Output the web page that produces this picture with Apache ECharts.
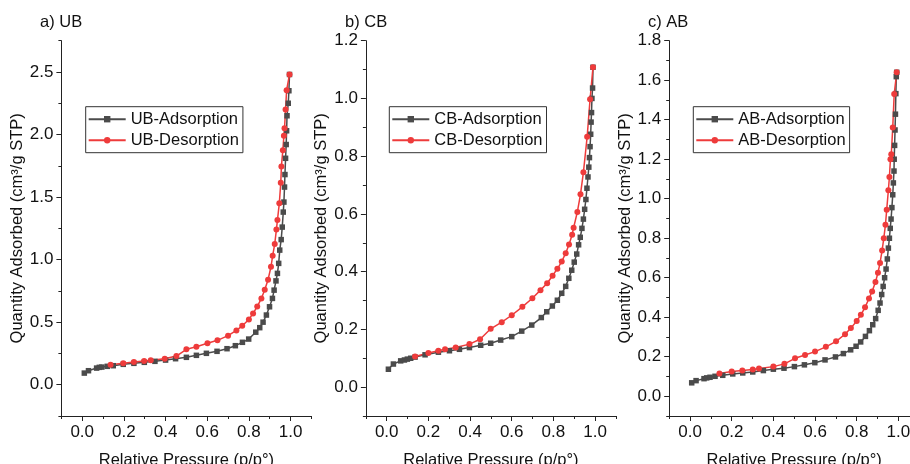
<!DOCTYPE html>
<html>
<head>
<meta charset="utf-8">
<script src="https://cdn.jsdelivr.net/npm/echarts@6/dist/echarts.min.js"></script>
<style>
  html, body { margin: 0; padding: 0; background: #fff; }
  #chart { width: 910px; height: 464px; }
</style>
</head>
<body>
<div id="chart"></div>
<script>
// N2 isotherms for three samples: [relative pressure p/p°, quantity adsorbed]
const panelTitles = ['a) UB', 'b) CB', 'c) AB'];
const sampleNames = ['UB', 'CB', 'AB'];

const ubAdsorption = [
  [0.010,0.093],[0.030,0.112],[0.069,0.133],[0.082,0.139],[0.094,0.141],[0.120,0.147],
  [0.149,0.152],[0.197,0.163],[0.248,0.171],[0.298,0.179],[0.349,0.187],[0.400,0.197],
  [0.448,0.208],[0.500,0.219],[0.548,0.235],[0.596,0.251],[0.647,0.267],[0.695,0.288],
  [0.735,0.312],[0.769,0.339],[0.799,0.365],[0.833,0.420],[0.852,0.456],[0.868,0.500],
  [0.884,0.557],[0.899,0.623],[0.913,0.690],[0.921,0.756],[0.930,0.830],[0.937,0.890],
  [0.943,0.970],[0.948,1.076],[0.955,1.160],[0.960,1.260],[0.965,1.380],[0.968,1.460],
  [0.971,1.580],[0.973,1.680],[0.976,1.810],[0.979,1.920],[0.981,2.030],[0.983,2.150],
  [0.989,2.250],[0.992,2.350],[0.995,2.480]
];
const ubDesorption = [
  [0.995,2.480],[0.981,2.354],[0.976,2.200],[0.971,2.050],[0.968,1.990],[0.963,1.875],
  [0.956,1.745],[0.953,1.615],[0.946,1.450],[0.937,1.316],[0.932,1.240],[0.924,1.125],
  [0.914,1.030],[0.906,0.943],[0.892,0.840],[0.876,0.760],[0.860,0.690],[0.840,0.625],
  [0.820,0.570],[0.800,0.522],[0.768,0.471],[0.740,0.434],[0.700,0.392],[0.649,0.355],
  [0.601,0.331],[0.548,0.304],[0.500,0.283],[0.452,0.229],[0.396,0.208],[0.329,0.195],
  [0.297,0.189],[0.248,0.181],[0.197,0.171],[0.136,0.160]
];

const cbAdsorption = [
  [0.008,0.062],[0.032,0.080],[0.067,0.091],[0.085,0.094],[0.099,0.097],[0.115,0.100],
  [0.136,0.104],[0.184,0.112],[0.248,0.121],[0.301,0.126],[0.349,0.131],[0.397,0.137],
  [0.451,0.145],[0.499,0.152],[0.547,0.163],[0.600,0.175],[0.648,0.194],[0.696,0.215],
  [0.742,0.241],[0.768,0.261],[0.795,0.281],[0.819,0.301],[0.840,0.325],[0.859,0.349],
  [0.874,0.377],[0.888,0.405],[0.900,0.433],[0.912,0.461],[0.921,0.493],[0.929,0.519],
  [0.937,0.550],[0.944,0.582],[0.950,0.616],[0.956,0.650],[0.961,0.689],[0.966,0.728],
  [0.970,0.762],[0.973,0.795],[0.976,0.833],[0.979,0.876],[0.981,0.918],[0.983,0.951],
  [0.985,1.000],[0.988,1.036],[0.990,1.108]
];
const cbDesorption = [
  [0.990,1.108],[0.976,0.997],[0.962,0.867],[0.944,0.744],[0.930,0.668],[0.915,0.607],
  [0.897,0.552],[0.890,0.528],[0.875,0.494],[0.859,0.464],[0.840,0.435],[0.819,0.410],
  [0.796,0.386],[0.770,0.360],[0.738,0.336],[0.699,0.308],[0.651,0.278],[0.600,0.249],
  [0.552,0.225],[0.499,0.202],[0.448,0.166],[0.397,0.149],[0.331,0.137],[0.280,0.131],
  [0.248,0.126],[0.200,0.118],[0.136,0.106]
];

const abAdsorption = [
  [0.008,0.068],[0.029,0.079],[0.067,0.089],[0.080,0.093],[0.096,0.096],[0.120,0.101],
  [0.157,0.106],[0.205,0.113],[0.253,0.118],[0.301,0.123],[0.352,0.130],[0.400,0.137],
  [0.451,0.142],[0.501,0.150],[0.549,0.159],[0.599,0.170],[0.648,0.184],[0.698,0.199],
  [0.736,0.216],[0.771,0.235],[0.797,0.253],[0.819,0.275],[0.842,0.303],[0.861,0.332],
  [0.877,0.362],[0.891,0.393],[0.903,0.435],[0.912,0.472],[0.920,0.515],[0.927,0.556],
  [0.934,0.600],[0.941,0.644],[0.947,0.695],[0.952,0.750],[0.957,0.800],[0.961,0.850],
  [0.965,0.897],[0.969,0.955],[0.973,1.020],[0.976,1.080],[0.979,1.140],[0.980,1.200],
  [0.982,1.270],[0.984,1.348],[0.986,1.428],[0.988,1.532],[0.990,1.618],[0.992,1.640]
];
const abDesorption = [
  [0.992,1.640],[0.980,1.530],[0.973,1.360],[0.966,1.225],[0.962,1.200],[0.957,1.110],
  [0.952,1.043],[0.944,0.944],[0.938,0.868],[0.930,0.800],[0.922,0.738],[0.912,0.675],
  [0.902,0.625],[0.890,0.578],[0.874,0.530],[0.859,0.495],[0.840,0.450],[0.820,0.412],
  [0.800,0.381],[0.772,0.345],[0.744,0.314],[0.701,0.278],[0.652,0.250],[0.600,0.226],
  [0.552,0.209],[0.504,0.192],[0.453,0.164],[0.400,0.150],[0.331,0.140],[0.301,0.135],
  [0.251,0.130],[0.200,0.125],[0.141,0.115]
];

// axis ranges and tick positions
const xRange = [-0.1, 1.1];
const xMajorTicks = [0, 0.2, 0.4, 0.6, 0.8, 1.0];
const xMinorTicks = [-0.1, 0.1, 0.3, 0.5, 0.7, 0.9, 1.1];
const yRanges = [[-0.25, 2.75], [-0.1, 1.2], [-0.1, 1.8]];
const yMajorTicks = [
  [0, 0.5, 1.0, 1.5, 2.0, 2.5],
  [0, 0.2, 0.4, 0.6, 0.8, 1.0, 1.2],
  [0, 0.2, 0.4, 0.6, 0.8, 1.0, 1.2, 1.4, 1.6, 1.8]
];
const yMinorTicks = [
  [-0.25, 0.25, 0.75, 1.25, 1.75, 2.25, 2.75],
  [-0.1, 0.1, 0.3, 0.5, 0.7, 0.9, 1.1],
  [-0.1, 0.1, 0.3, 0.5, 0.7, 0.9, 1.1, 1.3, 1.5, 1.7]
];
const adsorptionSets = [ubAdsorption, cbAdsorption, abAdsorption];
const desorptionSets = [ubDesorption, cbDesorption, abDesorption];

const xAxisName = 'Relative Pressure (p/p°)';
const yAxisName = 'Quantity Adsorbed (cm³/g STP)';

const FONT = 'Liberation Sans, Arial, sans-serif';
const INK = '#111';
const AXIS = '#222';
const ADS_COLOR = '#4b4b4b';
const DES_COLOR = '#ee3b3b';

const gridLefts = [61.4, 365.9, 669.2];
const gridTop = 40.7;
const gridWidth = 250;
const gridHeight = 375.3;
const legendLefts = [85.7, 389.3, 693.3];
const titleLefts = [40, 345, 648];

const fmt = v => v.toFixed(1);

const grids = [], xAxes = [], yAxes = [], series = [], legends = [], titles = [];

for (let i = 0; i < 3; i++) {
  grids.push({
    left: gridLefts[i], top: gridTop, width: gridWidth, height: gridHeight,
    containLabel: false, outerBoundsMode: 'none'
  });

  // major x axis (labels + long ticks)
  xAxes.push({
    type: 'value', gridIndex: i, position: 'bottom', min: xRange[0], max: xRange[1],
    name: xAxisName, nameLocation: 'middle', nameGap: 36,
    nameTextStyle: { fontFamily: FONT, fontSize: 16.5, color: INK },
    axisLine: { show: true, onZero: false, lineStyle: { color: AXIS, width: 1 } },
    axisTick: { show: true, inside: false, length: 5, customValues: xMajorTicks, lineStyle: { color: AXIS, width: 1 } },
    axisLabel: { customValues: xMajorTicks, formatter: fmt, margin: 8, fontFamily: FONT, fontSize: 17, color: INK },
    splitLine: { show: false }
  });
  // minor x ticks
  xAxes.push({
    type: 'value', gridIndex: i, position: 'bottom', offset: 0, min: xRange[0], max: xRange[1],
    axisLine: { show: false, onZero: false },
    axisTick: { show: true, inside: false, length: 3, customValues: xMinorTicks, lineStyle: { color: AXIS, width: 1 } },
    axisLabel: { show: false },
    splitLine: { show: false }
  });

  yAxes.push({
    type: 'value', gridIndex: i, position: 'left', min: yRanges[i][0], max: yRanges[i][1],
    name: yAxisName, nameLocation: 'middle', nameGap: 30,
    nameTextStyle: { fontFamily: FONT, fontSize: 16.5, color: INK },
    axisLine: { show: true, onZero: false, lineStyle: { color: AXIS, width: 1 } },
    axisTick: { show: true, inside: false, length: 5, customValues: yMajorTicks[i], lineStyle: { color: AXIS, width: 1 } },
    axisLabel: { customValues: yMajorTicks[i], formatter: fmt, margin: 8, fontFamily: FONT, fontSize: 17, color: INK },
    splitLine: { show: false }
  });
  // minor y ticks
  yAxes.push({
    type: 'value', gridIndex: i, position: 'left', offset: 0, min: yRanges[i][0], max: yRanges[i][1],
    axisLine: { show: false, onZero: false },
    axisTick: { show: true, inside: false, length: 3, customValues: yMinorTicks[i], lineStyle: { color: AXIS, width: 1 } },
    axisLabel: { show: false },
    splitLine: { show: false }
  });

  const adsName = sampleNames[i] + '-Adsorption';
  const desName = sampleNames[i] + '-Desorption';

  series.push({
    name: adsName, type: 'line', xAxisIndex: 2 * i, yAxisIndex: 2 * i,
    data: adsorptionSets[i], symbol: 'rect', symbolSize: 5.5, showSymbol: true,
    lineStyle: { color: ADS_COLOR, width: 1.5 }, itemStyle: { color: ADS_COLOR },
    animation: false, clip: false
  });
  series.push({
    name: desName, type: 'line', xAxisIndex: 2 * i, yAxisIndex: 2 * i,
    data: desorptionSets[i], symbol: 'circle', symbolSize: 6, showSymbol: true,
    lineStyle: { color: DES_COLOR, width: 1.5 }, itemStyle: { color: DES_COLOR },
    animation: false, clip: false
  });

  legends.push({
    data: [adsName, desName], orient: 'vertical',
    left: legendLefts[i], top: 106.7,
    itemWidth: 37, itemHeight: 8, itemGap: 4,
    padding: [4, 4, 4, 2],
    borderColor: '#333', borderWidth: 1, borderRadius: 0,
    textStyle: { fontFamily: FONT, fontSize: 16.5, color: INK, padding: [0, 0, 0, 0] },
    selectedMode: false
  });

  titles.push({
    text: panelTitles[i], left: titleLefts[i], top: 14, padding: 0,
    textStyle: { fontFamily: FONT, fontSize: 16.5, fontWeight: 'normal', color: INK }
  });
}

const chart = echarts.init(document.getElementById('chart'), null, { renderer: 'canvas' });
chart.setOption({
  backgroundColor: '#fff',
  animation: false,
  title: titles,
  legend: legends,
  grid: grids,
  xAxis: xAxes,
  yAxis: yAxes,
  series: series
});
</script>
</body>
</html>
